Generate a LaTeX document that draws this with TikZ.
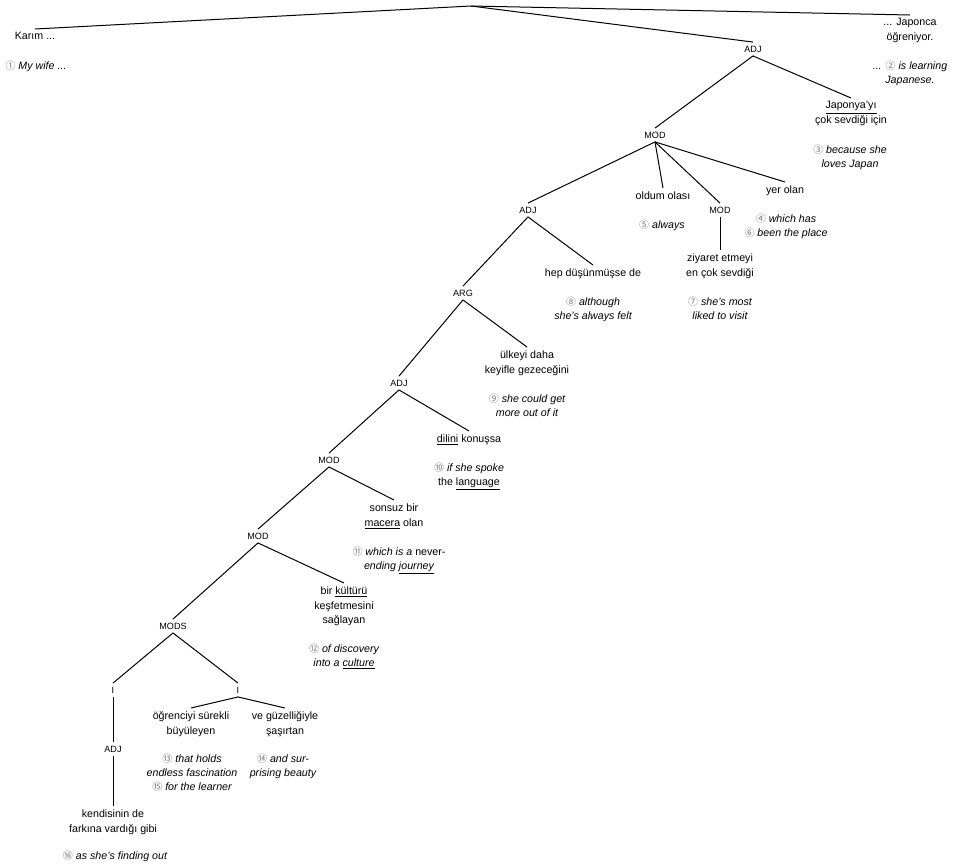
\documentclass[tikz,border=0pt]{standalone}
\usepackage{fontspec}
\setmainfont{Liberation Sans}
\newfontfamily\circfont{Noto Sans CJK JP}
\newcommand{\numring}[1]{{\circfont\color{black!55}\fontsize{7.5}{9}\selectfont #1}}
\tikzset{
    catlabel/.style={font=\fontsize{6.8}{8}\selectfont, text height=5pt, text depth=0pt, inner sep=2.5pt},
    phrase/.style={font=\fontsize{8}{11}\selectfont, align=center, anchor=north, inner sep=2.5pt},
    gloss/.style={font=\fontsize{8}{10.5}\selectfont\itshape, align=center, anchor=north, inner sep=2.5pt},
    branch/.style={line width=0.75pt}
}
\begin{document}
\begin{tikzpicture}[x=0.75pt,y=-0.75pt]
    \useasboundingbox (0,0) rectangle (957,865);
    % Root and main clause
    \coordinate (root) at (471,6);
    \node[phrase] (karim) at (35,29) {Karım ...};
    \node[gloss] (g1) at (36,57) {\numring{①} My wife ...};
    \node[phrase] (japonca) at (910,15) {... Japonca\\öğreniyor.};
    \node[gloss] (g2) at (910,57) {... \numring{②} is learning\\Japanese.};
    \node[catlabel] (adjA) at (753,49) {ADJ};
    \node[phrase] (japonya) at (851,98) {\underline{Japonya'yı}\\çok sevdiği için};
    \node[gloss] (g3) at (850,141) {\numring{③} because she\\loves Japan};

    % Upper MOD
    \node[catlabel] (modA) at (655,135) {MOD};
    \node[phrase] (oldum) at (663,188) {oldum olası};
    \node[gloss] (g5) at (662,216) {\numring{⑤} always};
    \node[phrase] (yer) at (785,182) {yer olan};
    \node[gloss] (g4) at (786,210) {\numring{④} which has\\\numring{⑥} been the place};
    \node[catlabel] (modB) at (720,210) {MOD};
    \node[phrase] (ziyaret) at (720,250) {ziyaret etmeyi\\en çok sevdiği};
    \node[gloss] (g7) at (720,293) {\numring{⑦} she's most\\liked to visit};

    % ADJ / ARG spine
    \node[catlabel] (adjB) at (528,210) {ADJ};
    \node[phrase] (hep) at (593,265) {hep düşünmüşse de};
    \node[gloss] (g8) at (593,293) {\numring{⑧} although\\she's always felt};
    \node[catlabel] (arg) at (463,293) {ARG};
    \node[phrase] (ulkeyi) at (527,347) {ülkeyi daha\\keyifle gezeceğini};
    \node[gloss] (g9) at (527,390) {\numring{⑨} she could get\\more out of it};
    \node[catlabel] (adjC) at (399,383) {ADJ};
    \node[phrase] (dilini) at (469,431) {\underline{dilini} konuşsa};
    \node[gloss] (g10) at (469,459) {\numring{⑩} if she spoke\\{\upshape the \underline{language}}};

    % Lower MODs
    \node[catlabel] (modC) at (329,460) {MOD};
    \node[phrase] (sonsuz) at (394,500) {sonsuz bir\\\underline{macera} olan};
    \node[gloss] (g11) at (399,543) {\numring{⑪} which is a {\upshape never-}\\ending \underline{journey}};
    \node[catlabel] (modD) at (258,536) {MOD};
    \node[phrase] (kulturu) at (344,583) {bir \underline{kültürü}\\keşfetmesini\\sağlayan};
    \node[gloss] (g12) at (344,640) {\numring{⑫} of discovery\\into a \underline{culture}};
    \node[catlabel] (mods) at (173,626) {MODS};

    % Coordinated part
    \node[catlabel] (iA) at (113,690) {I};
    \node[catlabel] (iB) at (238,690) {I};
    \node[phrase] (ogrenciyi) at (191,708) {öğrenciyi sürekli\\büyüleyen};
    \node[phrase] (ve) at (285,708) {ve güzelliğiyle\\şaşırtan};
    \node[gloss] (g13) at (192,750) {\numring{⑬} that holds\\endless fascination\\\numring{⑮} for the learner};
    \node[gloss] (g14) at (283,750) {\numring{⑭} and sur-\\prising beauty};
    \node[catlabel] (adjD) at (113,749) {ADJ};
    \node[phrase] (kendisinin) at (113,806) {kendisinin de\\farkına vardığı gibi};
    \node[gloss] (g16) at (115,847) {\numring{⑯} as she's finding out};

    % Branches
    \foreach \leaf in {karim,adjA,japonca}
        \draw[branch] (root) -- (\leaf.north);
    \foreach \up/\down in {adjA/modA, adjA/japonya, modA/adjB, modA/oldum, modA/modB, modA/yer,
        modB/ziyaret, adjB/arg, adjB/hep, arg/adjC, arg/ulkeyi, adjC/modC, adjC/dilini,
        modC/modD, modC/sonsuz, modD/mods, modD/kulturu, mods/iA, mods/iB,
        iB/ogrenciyi, iB/ve, iA/adjD, adjD/kendisinin}
        \draw[branch] (\up.south) -- (\down.north);
\end{tikzpicture}
\end{document}
